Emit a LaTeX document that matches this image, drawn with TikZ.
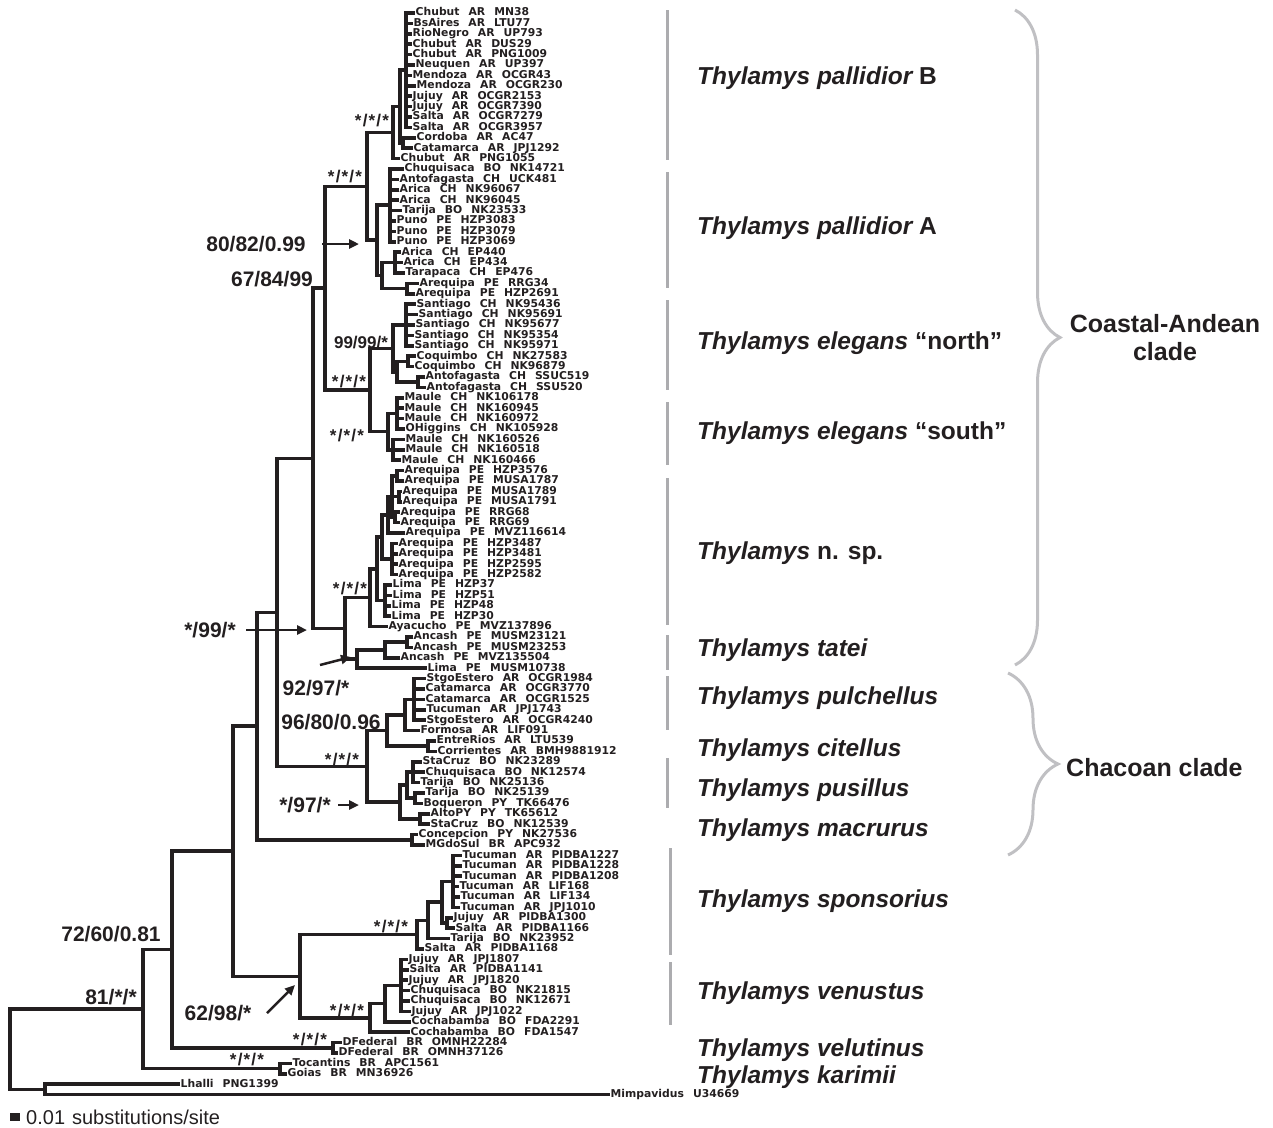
\documentclass[tikz,border=0pt]{standalone}
\usepackage{fontspec}
\setmainfont{Liberation Sans}
\newfontfamily\leaffont{DejaVu Sans}
\usetikzlibrary{decorations.pathreplacing,arrows.meta}
\definecolor{ink}{RGB}{35,31,32}
\definecolor{bargray}{RGB}{172,172,175}
\definecolor{bracegray}{RGB}{192,192,195}
\newcommand\lfx[3]{#1\hspace{9pt}#2\hspace{9pt}#3}
\tikzset{
 br/.style={line width=3.5pt, draw=ink, line join=miter},
 leaf/.style={anchor=west, inner sep=0.5pt, font=\leaffont\bfseries\fontsize{10.8}{10.8}\selectfont, text height=7.8pt, text depth=2pt, text=ink},
 big/.style={font=\fontsize{21}{21}\selectfont\bfseries, text=ink, inner sep=0pt},
 mid/.style={font=\fontsize{17}{17}\selectfont\bfseries, text=ink, inner sep=0pt},
 stars/.style={font=\fontsize{17}{17}\selectfont\bfseries, text=ink, inner sep=0pt},
 spname/.style={anchor=west, font=\fontsize{24.5}{24.5}\selectfont\bfseries\itshape, text=ink, inner sep=0pt},
 cladelab/.style={font=\fontsize{25}{28}\selectfont\bfseries, text=ink, align=center, inner sep=0pt},
 bar/.style={line width=3pt, draw=bargray},
 pointer/.style={-{Triangle[length=10pt,width=9pt]}, line width=2.5pt, draw=ink, fill=ink},
 brc/.style={decorate, decoration={brace, amplitude=#1}, line width=3pt, draw=bracegray},
}
\newcommand\st{*\kern1.2pt/\kern1.2pt*\kern1.2pt/\kern1.2pt*}
\begin{document}
\begin{tikzpicture}[x=1pt,y=-1pt]
\useasboundingbox (0,0) rectangle (1273,1127);
% ---------- leaves ----------
\foreach \i/\x/\a/\b/\c in {
1/415/Chubut/AR/MN38, 2/413/BsAires/AR/LTU77, 3/412/RioNegro/AR/UP793, 4/412/Chubut/AR/DUS29,
5/412/Chubut/AR/PNG1009, 6/415/Neuquen/AR/UP397, 7/412/Mendoza/AR/OCGR43, 8/416/Mendoza/AR/OCGR230,
9/412/Jujuy/AR/OCGR2153, 10/412/Jujuy/AR/OCGR7390, 11/412/Salta/AR/OCGR7279, 12/412/Salta/AR/OCGR3957,
13/416/Cordoba/AR/AC47, 14/413/Catamarca/AR/JPJ1292, 15/400/Chubut/AR/PNG1055, 16/404/Chuquisaca/BO/NK14721,
17/399/Antofagasta/CH/UCK481, 18/399/Arica/CH/NK96067, 19/399/Arica/CH/NK96045, 20/402/Tarija/BO/NK23533,
21/396/Puno/PE/HZP3083, 22/396/Puno/PE/HZP3079, 23/396/Puno/PE/HZP3069, 24/401/Arica/CH/EP440,
25/403/Arica/CH/EP434, 26/405/Tarapaca/CH/EP476, 27/419/Arequipa/PE/RRG34, 28/415/Arequipa/PE/HZP2691,
29/416/Santiago/CH/NK95436, 30/418/Santiago/CH/NK95691, 31/415/Santiago/CH/NK95677, 32/414/Santiago/CH/NK95354,
33/414/Santiago/CH/NK95971, 34/416/Coquimbo/CH/NK27583, 35/414/Coquimbo/CH/NK96879, 36/425/Antofagasta/CH/SSUC519,
37/426/Antofagasta/CH/SSU520, 38/404/Maule/CH/NK106178, 39/404/Maule/CH/NK160945, 40/404/Maule/CH/NK160972,
41/405/OHiggins/CH/NK105928, 42/405/Maule/CH/NK160526, 43/405/Maule/CH/NK160518, 44/401/Maule/CH/NK160466,
45/404/Arequipa/PE/HZP3576, 46/404/Arequipa/PE/MUSA1787, 47/402/Arequipa/PE/MUSA1789, 48/402/Arequipa/PE/MUSA1791,
49/400/Arequipa/PE/RRG68, 50/400/Arequipa/PE/RRG69, 51/405/Arequipa/PE/MVZ116614, 52/398/Arequipa/PE/HZP3487,
53/398/Arequipa/PE/HZP3481, 54/398/Arequipa/PE/HZP2595, 55/398/Arequipa/PE/HZP2582, 56/392/Lima/PE/HZP37,
57/392/Lima/PE/HZP51, 58/391/Lima/PE/HZP48, 59/391/Lima/PE/HZP30, 60/388/Ayacucho/PE/MVZ137896,
61/413/Ancash/PE/MUSM23121, 62/413/Ancash/PE/MUSM23253, 63/400/Ancash/PE/MVZ135504, 64/427/Lima/PE/MUSM10738,
65/426/StgoEstero/AR/OCGR1984, 66/425/Catamarca/AR/OCGR3770, 67/425/Catamarca/AR/OCGR1525, 68/426/Tucuman/AR/JPJ1743,
69/426/StgoEstero/AR/OCGR4240, 70/420/Formosa/AR/LIF091, 71/436/EntreRios/AR/LTU539, 72/437/Corrientes/AR/BMH9881912,
73/422/StaCruz/BO/NK23289, 74/425/Chuquisaca/BO/NK12574, 75/420/Tarija/BO/NK25136, 76/425/Tarija/BO/NK25139,
77/423/Boqueron/PY/TK66476, 78/430/AltoPY/PY/TK65612, 79/430/StaCruz/BO/NK12539, 80/418/Concepcion/PY/NK27536,
81/425/MGdoSul/BR/APC932, 82/462/Tucuman/AR/PIDBA1227, 83/462/Tucuman/AR/PIDBA1228, 84/462/Tucuman/AR/PIDBA1208,
85/459/Tucuman/AR/LIF168, 86/460/Tucuman/AR/LIF134, 87/460/Tucuman/AR/JPJ1010, 88/453/Jujuy/AR/PIDBA1300,
89/455/Salta/AR/PIDBA1166, 90/450/Tarija/BO/NK23952, 91/424/Salta/AR/PIDBA1168, 92/408/Jujuy/AR/JPJ1807,
93/409/Salta/AR/PIDBA1141, 94/408/Jujuy/AR/JPJ1820, 95/410/Chuquisaca/BO/NK21815, 96/410/Chuquisaca/BO/NK12671,
97/411/Jujuy/AR/JPJ1022, 98/411/Cochabamba/BO/FDA2291, 99/410/Cochabamba/BO/FDA1547, 100/342/DFederal/BR/OMNH22284,
101/338/DFederal/BR/OMNH37126, 102/292/Tocantins/BR/APC1561, 103/287/Goias/BR/MN36926}
  \node[leaf] (l\i) at (\x,{13+(\i-1)*10.4}) {\lfx{\a}{\b}{\c}};
\node[leaf] (l104) at (180,1084.2) {Lhalli\hspace{9pt}PNG1399};
\node[leaf] (l105) at (610,1094.6) {Mimpavidus\hspace{9pt}U34669};
% ---------- internal nodes ----------
\coordinate (root) at (10,1049.2);
\coordinate (O) at (45,1089.4);
\coordinate (G) at (143,1009);
\coordinate (K) at (280,1068.6);
\coordinate (F) at (172,949.5);
\coordinate (Vel) at (333,1047.8);
\coordinate (E) at (233,851.2);
\coordinate (H) at (300,976.3);
\coordinate (S1) at (417,934.7);
\coordinate (S2) at (428,920.4);
\coordinate (S3) at (442,902.2);
\coordinate (S3b) at (447,923);
\coordinate (S4) at (453,881.4);
\coordinate (V1) at (370,1017.9);
\coordinate (V2) at (385,1003.6);
\coordinate (V3) at (401,985.4);
\coordinate (D) at (257,726.1);
\coordinate (M) at (412,839.8);
\coordinate (C) at (277,612.4);
\coordinate (Ch) at (367,766.4);
\coordinate (P0) at (387,730.6);
\coordinate (P1) at (405,715);
\coordinate (P2) at (414,699.4);
\coordinate (P4) at (428,746.2);
\coordinate (Q0) at (400,802.1);
\coordinate (Q1) at (407,785.2);
\coordinate (Q2) at (413,772.2);
\coordinate (Q3) at (415,798.2);
\coordinate (Q4) at (420,819);
\coordinate (B) at (313,458.3);
\coordinate (NT) at (345,628.4);
\coordinate (T0) at (357,659.1);
\coordinate (T1) at (385,650);
\coordinate (T2) at (407,642.2);
\coordinate (N0) at (370,597.7);
\coordinate (N1) at (377,568.8);
\coordinate (NL) at (385,600.6);
\coordinate (N2) at (382,536.9);
\coordinate (N3) at (388,514.8);
\coordinate (N4) at (392,496.6);
\coordinate (N4a) at (397,475.8);
\coordinate (N4b) at (399,496.6);
\coordinate (N4c) at (395,517.4);
\coordinate (N5) at (392,559);
\coordinate (A) at (325,288.2);
\coordinate (E0) at (370,390);
\coordinate (EN0) at (393,348.4);
\coordinate (SA) at (406,325);
\coordinate (EN1) at (397,371.8);
\coordinate (Coq) at (408,361.4);
\coordinate (Ant) at (418,382.2);
\coordinate (ES0) at (388,431.6);
\coordinate (ES1) at (397,413.4);
\coordinate (ES2) at (393,449.8);
\coordinate (P) at (367,186.3);
\coordinate (PB) at (393,132.5);
\coordinate (PB1) at (400,106.5);
\coordinate (PB3) at (406,70);
\coordinate (PB4) at (403,143);
\coordinate (PA) at (377,240.1);
\coordinate (PA1) at (390,204.8);
\coordinate (PA2) at (382,275.4);
\coordinate (PA3) at (395,262.4);
\coordinate (PA4) at (407,288.4);
% ---------- branches ----------
\foreach \p/\c in {root/G, root/O, O/l104.west, O/l105.west,
 G/F, G/K, K/l102.west, K/l103.west,
 F/E, F/Vel, Vel/l100.west, Vel/l101.west,
 E/D, E/H, H/S1, H/V1,
 S1/S2, S1/l91.west, S2/S3, S2/l90.west, S3/S4, S3/S3b, S3b/l88.west, S3b/l89.west,
 S4/l82.west, S4/l83.west, S4/l84.west, S4/l85.west, S4/l86.west, S4/l87.west,
 V1/V2, V1/l99.west, V2/V3, V2/l98.west,
 V3/l92.west, V3/l93.west, V3/l94.west, V3/l95.west, V3/l96.west, V3/l97.west,
 D/C, D/M, M/l80.west, M/l81.west,
 C/B, C/Ch, Ch/P0, Ch/Q0, P0/P1, P0/P4, P1/P2, P1/l70.west,
 P2/l65.west, P2/l66.west, P2/l67.west, P2/l68.west, P2/l69.west, P4/l71.west, P4/l72.west,
 Q0/Q1, Q0/Q4, Q1/Q2, Q1/Q3, Q2/l73.west, Q2/l74.west, Q2/l75.west, Q3/l76.west, Q3/l77.west,
 Q4/l78.west, Q4/l79.west,
 B/A, B/NT, NT/N0, NT/T0, T0/T1, T0/l64.west, T1/T2, T1/l63.west, T2/l61.west, T2/l62.west,
 N0/N1, N0/l60.west, N1/N2, N1/NL, NL/l56.west, NL/l57.west, NL/l58.west, NL/l59.west,
 N2/N3, N2/N5, N3/N4, N3/l51.west, N4/N4a, N4/N4b, N4/N4c,
 N4a/l45.west, N4a/l46.west, N4b/l47.west, N4b/l48.west, N4c/l49.west, N4c/l50.west,
 N5/l52.west, N5/l53.west, N5/l54.west, N5/l55.west,
 A/P, A/E0, E0/EN0, E0/ES0, EN0/SA, EN0/EN1,
 SA/l29.west, SA/l30.west, SA/l31.west, SA/l32.west, SA/l33.west,
 EN1/Coq, EN1/Ant, Coq/l34.west, Coq/l35.west, Ant/l36.west, Ant/l37.west,
 ES0/ES1, ES0/ES2, ES1/l38.west, ES1/l39.west, ES1/l40.west, ES1/l41.west,
 ES2/l42.west, ES2/l43.west, ES2/l44.west,
 P/PB, P/PA, PB/PB1, PB/l15.west, PB1/PB3, PB1/PB4,
 PB3/l1.west, PB3/l2.west, PB3/l3.west, PB3/l4.west, PB3/l5.west, PB3/l6.west,
 PB3/l7.west, PB3/l8.west, PB3/l9.west, PB3/l10.west, PB3/l11.west, PB3/l12.west,
 PB4/l13.west, PB4/l14.west,
 PA/PA1, PA/PA2, PA1/l16.west, PA1/l17.west, PA1/l18.west, PA1/l19.west, PA1/l20.west,
 PA1/l21.west, PA1/l22.west, PA1/l23.west,
 PA2/PA3, PA2/PA4, PA3/l24.west, PA3/l25.west, PA3/l26.west, PA4/l27.west, PA4/l28.west}
  \draw[br] (\p) |- (\c);
% ---------- support values ----------
\node[stars] (v1) at (372,121) {\st};
\node[stars] (v2) at (345,177) {\st};
\node[big] (v3) at (256,244) {80/82/0.99};
\node[big] (v4) at (272,279) {67/84/99};
\node[mid] (v5) at (361,343) {99/99/*};
\node[stars] (v6) at (349,382) {\st};
\node[stars] (v7) at (347,436) {\st};
\node[stars] (v8) at (350,589) {\st};
\node[big] (v9) at (210,630) {*/99/*};
\node[big] (v10) at (316,688) {92/97/*};
\node[big] (v11) at (331,722) {96/80/0.96};
\node[stars] (v12) at (342,759) {\st};
\node[big] (v13) at (305,805) {*/97/*};
\node[stars] (v14) at (391,926) {\st};
\node[big] (v15) at (111,934) {72/60/0.81};
\node[big] (v16) at (111,997) {81/*/*};
\node[big] (v17) at (218,1013) {62/98/*};
\node[stars] (v18) at (347,1010) {\st};
\node[stars] (v19) at (310,1039) {\st};
\node[stars] (v20) at (247,1059) {\st};
% arrows
\coordinate (a1s) at (322,244); \coordinate (a1e) at (359,244);
\coordinate (a2s) at (246,630); \coordinate (a2e) at (307,630);
\coordinate (a3s) at (320,665); \coordinate (a3e) at (351,657);
\coordinate (a4s) at (338,805); \coordinate (a4e) at (359,805);
\coordinate (a5s) at (267,1013); \coordinate (a5e) at (295,985);
\foreach \s/\e in {a1s/a1e, a2s/a2e, a3s/a3e, a4s/a4e, a5s/a5e}
  \draw[pointer] (\s) -- (\e);
% ---------- species bars ----------
\foreach \x/\ya/\yb in {667/10/160, 667/172/288, 667/300/390, 667/402/465, 667/478/625,
 667/635/670, 667/676/730, 667/758/808, 670/848/955, 670/962/1025}
  \draw[bar] (\x,\ya) -- (\x,\yb);
% ---------- species names ----------
\node[spname] (sp1) at (697,78) {Thylamys pallidior \upshape B};
\node[spname] (sp2) at (697,228) {Thylamys pallidior \upshape A};
\node[spname] (sp3) at (697,343) {Thylamys elegans \upshape “north”};
\node[spname] (sp4) at (697,433) {Thylamys elegans \upshape “south”};
\node[spname] (sp5) at (697,553) {Thylamys \upshape n. sp.};
\node[spname] (sp6) at (697,650) {Thylamys tatei};
\node[spname] (sp7) at (697,698) {Thylamys pulchellus};
\node[spname] (sp8) at (697,750) {Thylamys citellus};
\node[spname] (sp9) at (697,790) {Thylamys pusillus};
\node[spname] (sp10) at (697,830) {Thylamys macrurus};
\node[spname] (sp11) at (697,901) {Thylamys sponsorius};
\node[spname] (sp12) at (697,993) {Thylamys venustus};
\node[spname] (sp13) at (697,1050) {Thylamys velutinus};
\node[spname] (sp14) at (697,1077) {Thylamys karimii};
% ---------- braces ----------
\coordinate (b1t) at (1015,10); \coordinate (b1b) at (1015,665);
\coordinate (b2t) at (1008,673); \coordinate (b2b) at (1008,855);
\draw[brc=45pt] (b1t) -- (b1b);
\draw[brc=50pt] (b2t) -- (b2b);
\node[cladelab] (cl1) at (1165,338) {Coastal-Andean\\clade};
\node[cladelab, anchor=west] (cl2) at (1066,768) {Chacoan clade};
% ---------- scale bar ----------
\fill[ink] (10,1113) rectangle (20,1121);
\node[anchor=west, font=\fontsize{20}{20}\selectfont, text=ink, inner sep=0pt] (sb) at (26,1117) {0.01\hspace{7pt}substitutions/site};
\end{tikzpicture}
\end{document}
